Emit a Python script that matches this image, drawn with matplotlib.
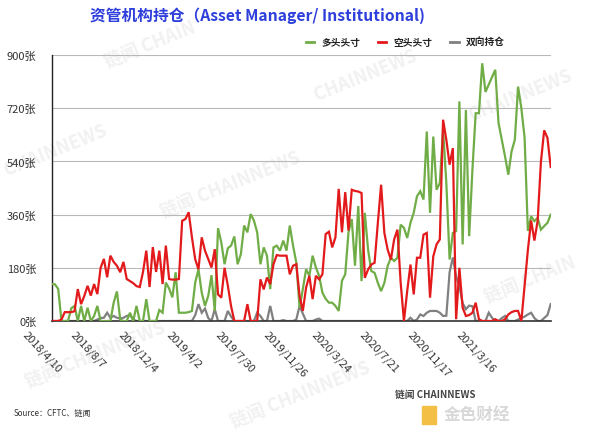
import matplotlib
matplotlib.use('Agg')
import matplotlib.pyplot as plt
import matplotlib.transforms as mtransforms
from matplotlib.lines import Line2D
from matplotlib.patches import Rectangle
import numpy as np

plt.rcParams['font.family'] = ['Noto Sans CJK SC', 'DejaVu Sans']

# ---------------- data ----------------
tick_labels = ['2018/4/10', '2018/8/7', '2018/12/4', '2019/4/2', '2019/7/30',
               '2019/11/26', '2020/3/24', '2020/7/21', '2020/11/17', '2021/3/16']

series_names = ['多头头寸', '空头头寸', '双向持仓']

long_pos = [125, 124, 108, 0, 0, 0, 43, 51, 0, 51,
            0, 45, 0, 17, 51, 0, 0, 0, 0, 62,
            100, 5, 0, 0, 28, 0, 51, 0, 0, 74,
            0, 0, 0, 37, 28, 130, 110, 80, 165, 28,
            28, 28, 30, 34, 130, 175, 96, 51, 85, 155,
            34, 314, 266, 192, 246, 255, 286, 192, 226, 323,
            300, 362, 340, 300, 192, 249, 221, 108, 249, 255,
            238, 272, 238, 323, 255, 198, 45, 108, 175, 153,
            221, 181, 153, 96, 75, 62, 62, 51, 34, 136,
            158, 300, 345, 187, 389, 135, 366, 242, 169, 163,
            129, 101, 129, 186, 214, 203, 214, 326, 315, 281,
            332, 366, 422, 439, 411, 641, 366, 624, 444, 467,
            647, 467, 208, 298, 304, 743, 259, 714, 287, 512,
            703, 703, 872, 775, 800, 825, 850, 670, 613, 557,
            495, 574, 613, 793, 720, 620, 305, 354, 338, 349,
            309, 321, 332, 360]

short_pos = [0, 0, 0, 5, 30, 30, 30, 33, 108, 57,
             85, 119, 86, 125, 91, 180, 210, 148, 221, 200,
             187, 165, 200, 142, 135, 128, 118, 115, 166, 238,
             115, 250, 166, 238, 125, 255, 142, 140, 140, 142,
             339, 345, 368, 283, 209, 175, 283, 238, 209, 181,
             243, 90, 79, 180, 120, 50, 0, 0, 0, 0,
             57, 0, 0, 0, 141, 107, 147, 125, 192, 223,
             221, 221, 221, 158, 187, 192, 85, 34, 113, 153,
             74, 153, 141, 158, 294, 302, 249, 283, 447, 300,
             436, 306, 444, 440, 438, 433, 146, 174, 191, 197,
             332, 461, 298, 242, 208, 276, 309, 129, 0, 101,
             191, 90, 214, 214, 292, 298, 79, 219, 259, 276,
             681, 613, 529, 585, 6, 180, 45, 17, 20, 28,
             62, 6, 0, 0, 0, 0, 6, 0, 0, 6,
             22, 30, 34, 34, 0, 120, 240, 340, 272, 339,
             538, 645, 620, 521]

spread_pos = [0, 0, 0, 0, 0, 0, 0, 0, 0, 0,
              0, 0, 0, 0, 5, 10, 11, 28, 11, 17,
              11, 8, 11, 17, 20, 5, 0, 0, 0, 0,
              0, 0, 0, 0, 0, 0, 0, 0, 0, 0,
              0, 0, 0, 0, 20, 57, 28, 42, 10, 0,
              40, 0, 0, 0, 34, 15, 0, 0, 0, 0,
              0, 0, 0, 28, 17, 0, 0, 51, 0, 0,
              0, 3, 0, 0, 0, 5, 51, 25, 0, 0,
              0, 5, 8, 0, 0, 0, 0, 0, 0, 0,
              0, 0, 0, 0, 0, 0, 0, 0, 0, 0,
              0, 0, 0, 0, 0, 0, 0, 0, 0, 0,
              11, 0, 5, 22, 17, 28, 34, 34, 34, 28,
              17, 18, 165, 215, 150, 118, 60, 40, 52, 50,
              0, 0, 0, 0, 28, 11, 0, 0, 10, 17,
              0, 0, 0, 5, 10, 15, 22, 28, 10, 0,
              0, 10, 20, 57]

y_ticks = [0, 180, 360, 540, 720, 900]

# ---------------- figure ----------------
W, H = 600, 435
fig = plt.figure(figsize=(W / 100, H / 100), dpi=100)
fig.patch.set_facecolor('white')

# background layer for faint watermarks
bg = fig.add_axes([0, 0, 1, 1], zorder=-5)
bg.set_xlim(0, W)
bg.set_ylim(H, 0)
bg.axis('off')
wm_color = '#f1f1f1'
for (px, py, txt) in [(150, 45, '链闻 CHAIN'), (365, 75, 'CHAINNEWS'), (520, 95, 'CHAINNEWS'),
                      (55, 150, 'CHAINNEWS'), (230, 185, '链闻 CHAINNEWS'), (530, 280, '链闻 CHAIN'),
                      (95, 355, '链闻 CHAINNEWS'), (300, 395, '链闻 CHAINNEWS')]:
    bg.text(px, py, txt, fontsize=13, fontweight='bold', color=wm_color,
            rotation=22, ha='center', va='center')

ax_l, ax_r, ax_t, ax_b = 51.7, 550.7, 56, 322
ax = fig.add_axes([ax_l / W, (H - ax_b) / H, (ax_r - ax_l) / W, (ax_b - ax_t) / H], zorder=1)

x = np.arange(len(long_pos))
colors = ['#70ad47', '#e31a1c', '#808080']
ax.plot(x, long_pos, color=colors[0], lw=1.6, zorder=3, solid_joinstyle='miter')
ax.plot(x, short_pos, color=colors[1], lw=1.6, zorder=4, solid_joinstyle='miter')
ax.plot(x, spread_pos, color=colors[2], lw=1.6, zorder=2, solid_joinstyle='miter')

ax.set_xlim(0, len(long_pos) - 1)
ax.set_ylim(0, 900)
ax.patch.set_alpha(0)

ax.set_yticks(y_ticks)
ax.set_yticklabels([f'{v}张' for v in y_ticks], fontsize=8, color='#333333')
ax.tick_params(axis='y', length=0, pad=11)
ax.yaxis.grid(True, color='#b8b8b8', lw=0.8, zorder=1)
ax.set_axisbelow(True)
ax.set_xticks([])

for s in ['top', 'right']:
    ax.spines[s].set_visible(False)
ax.spines['left'].set_color('#222222')
ax.spines['left'].set_linewidth(1.0)
ax.spines['bottom'].set_color('#333333')
ax.spines['bottom'].set_linewidth(1.2)

# rotated category labels
px_per_unit = (ax_r - ax_l) / (len(long_pos) - 1)
first_anchor_px, label_step_px = 28.0, 48.2
trans = mtransforms.blended_transform_factory(ax.transData, ax.transAxes)
for k, lab in enumerate(tick_labels):
    xd = (first_anchor_px + k * label_step_px - ax_l) / px_per_unit
    ax.text(xd, -8.0 / (ax_b - ax_t), lab, transform=trans, rotation=-47,
            rotation_mode='anchor', ha='left', va='top', fontsize=8,
            color='#333333', clip_on=False)

# title
fig.text(258 / W, 1 - 16 / H, '资管机构持仓（Asset Manager/ Institutional)',
         ha='center', va='center', fontsize=11.3, fontweight='bold', color='#2e3fdb')

# legend
handles = [Line2D([0], [0], color=c, lw=2) for c in colors]
leg = fig.legend(handles, series_names, loc='center', bbox_to_anchor=(405 / W, 1 - 43 / H),
                 ncol=3, frameon=False, handlelength=0.9, handletextpad=0.7,
                 columnspacing=1.8, prop={'size': 7, 'weight': 'bold'})
for t in leg.get_texts():
    t.set_color('#222222')

# source
fig.text(14 / W, 1 - 413 / H, 'Source：CFTC、链闻', fontsize=5.8, color='#333333',
         ha='left', va='center')

# logos
fig.text(395 / W, 1 - 395 / H, '链闻 CHAINNEWS', fontsize=7, fontweight='bold',
         color='#444444', ha='left', va='center')
fig.patches.append(Rectangle((422 / W, 1 - 425 / H), 14 / W, 18 / H,
                             transform=fig.transFigure, color='#f3c045', zorder=1))
fig.text(444 / W, 1 - 415 / H, '金色财经', fontsize=12, fontweight='bold',
         color='#d8d8d8', ha='left', va='center')

fig.savefig('out.png', dpi=100, facecolor='white')
